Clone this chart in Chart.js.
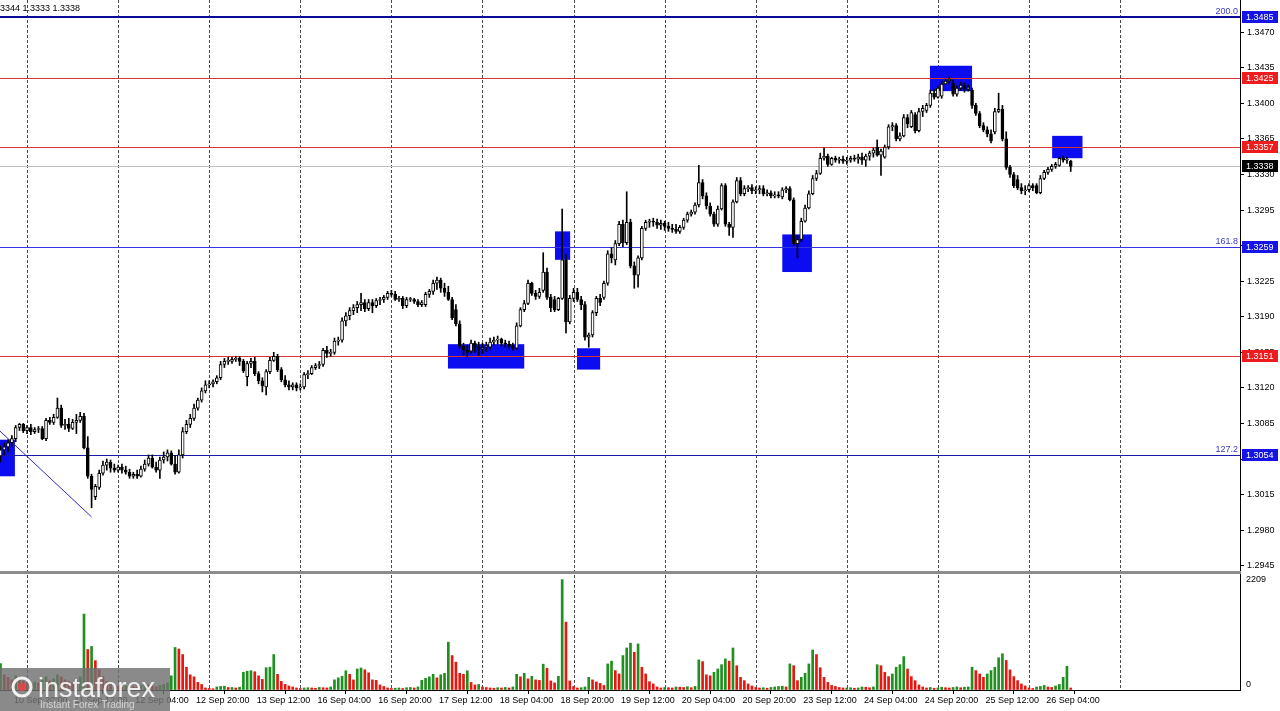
<!DOCTYPE html>
<html>
<head>
<meta charset="utf-8">
<script src="https://cdn.jsdelivr.net/npm/chart.js@4.4.1/dist/chart.umd.min.js"></script>
<style>
  html, body { margin: 0; padding: 0; background: #fff; }
  #wrap { width: 1280px; height: 711px; }
</style>
</head>
<body>
<div id="wrap"><canvas id="chart" width="1280" height="711"></canvas></div>
<script>
// GBPUSD H1, one entry per hourly bar, starting 10 Sep 17:00
const opens = [
  1.3053,1.3059,1.3062,1.3066,1.3070,1.3081,1.3084,1.3078,1.3081,1.3077,
  1.3079,1.3080,1.3070,1.3088,1.3086,1.3091,1.3100,1.3083,1.3084,1.3080,
  1.3086,1.3088,1.3092,1.3061,1.3033,1.3013,1.3022,1.3036,1.3044,1.3047,
  1.3041,1.3039,1.3042,1.3039,1.3037,1.3033,1.3035,1.3033,1.3040,1.3045,
  1.3051,1.3042,1.3039,1.3049,1.3052,1.3056,1.3045,1.3037,1.3054,1.3077,
  1.3084,1.3090,1.3100,1.3108,1.3117,1.3123,1.3124,1.3126,1.3130,1.3143,
  1.3146,1.3146,1.3148,1.3149,1.3146,1.3131,1.3144,1.3146,1.3134,1.3127,
  1.3121,1.3136,1.3147,1.3151,1.3138,1.3128,1.3123,1.3121,1.3123,1.3120,
  1.3121,1.3133,1.3134,1.3140,1.3142,1.3143,1.3157,1.3154,1.3155,1.3166,
  1.3167,1.3186,1.3191,1.3196,1.3199,1.3202,1.3204,1.3198,1.3204,1.3201,
  1.3206,1.3207,1.3209,1.3213,1.3212,1.3207,1.3208,1.3201,1.3207,1.3207,
  1.3205,1.3202,1.3202,1.3212,1.3215,1.3223,1.3226,1.3218,1.3214,1.3207,
  1.3197,1.3183,1.3161,1.3157,1.3156,1.3164,1.3160,1.3158,1.3160,1.3160,
  1.3165,1.3167,1.3168,1.3164,1.3163,1.3161,1.3159,1.3181,1.3197,1.3203,
  1.3223,1.3213,1.3210,1.3216,1.3234,1.3209,1.3207,1.3197,1.3208,1.3246,
  1.3185,1.3208,1.3214,1.3207,1.3202,1.3170,1.3172,1.3194,1.3208,1.3209,
  1.3223,1.3252,1.3246,1.3262,1.3281,1.3263,1.3283,1.3240,1.3231,1.3248,
  1.3277,1.3283,1.3284,1.3283,1.3280,1.3282,1.3279,1.3277,1.3276,1.3274,
  1.3278,1.3285,1.3291,1.3293,1.3300,1.3322,1.3309,1.3299,1.3291,1.3281,
  1.3296,1.3319,1.3281,1.3278,1.3303,1.3324,1.3311,1.3316,1.3317,1.3314,
  1.3315,1.3316,1.3311,1.3312,1.3309,1.3310,1.3308,1.3315,1.3316,1.3305,
  1.3262,1.3266,1.3284,1.3297,1.3311,1.3326,1.3331,1.3346,1.3348,1.3340,
  1.3346,1.3344,1.3345,1.3343,1.3344,1.3346,1.3345,1.3347,1.3344,1.3348,
  1.3351,1.3357,1.3349,1.3347,1.3357,1.3377,1.3378,1.3365,1.3368,1.3386,
  1.3377,1.3389,1.3373,1.3392,1.3393,1.3398,1.3410,1.3406,1.3407,1.3419,
  1.3422,1.3420,1.3409,1.3415,1.3418,1.3414,1.3413,1.3398,1.3390,1.3378,
  1.3374,1.3370,1.3372,1.3392,1.3394,1.3365,1.3337,1.3330,1.3325,1.3317,
  1.3314,1.3315,1.3319,1.3319,1.3312,1.3326,1.3332,1.3335,1.3338,1.3339,
  1.3346,1.3344,1.3343
];
const highs = [
  1.3063,1.3066,1.3069,1.3073,1.3083,1.3085,1.3085,1.3083,1.3084,1.3081,
  1.3082,1.3082,1.3090,1.3091,1.3094,1.3110,1.3103,1.3089,1.3090,1.3089,
  1.3094,1.3096,1.3095,1.3072,1.3035,1.3025,1.3039,1.3048,1.3050,1.3049,
  1.3045,1.3044,1.3045,1.3043,1.3040,1.3037,1.3039,1.3043,1.3049,1.3054,
  1.3054,1.3047,1.3052,1.3057,1.3059,1.3058,1.3053,1.3059,1.3081,1.3088,
  1.3094,1.3104,1.3110,1.3120,1.3127,1.3127,1.3128,1.3132,1.3146,1.3149,
  1.3150,1.3150,1.3151,1.3151,1.3148,1.3146,1.3149,1.3150,1.3136,1.3130,
  1.3138,1.3150,1.3155,1.3153,1.3140,1.3132,1.3127,1.3125,1.3125,1.3124,
  1.3135,1.3137,1.3142,1.3144,1.3146,1.3159,1.3161,1.3158,1.3169,1.3170,
  1.3189,1.3194,1.3199,1.3202,1.3205,1.3213,1.3207,1.3207,1.3207,1.3208,
  1.3209,1.3211,1.3215,1.3216,1.3215,1.3210,1.3210,1.3209,1.3209,1.3208,
  1.3207,1.3206,1.3214,1.3217,1.3226,1.3229,1.3228,1.3223,1.3220,1.3209,
  1.3202,1.3186,1.3164,1.3162,1.3167,1.3166,1.3165,1.3164,1.3165,1.3169,
  1.3170,1.3171,1.3169,1.3167,1.3166,1.3164,1.3184,1.3199,1.3206,1.3226,
  1.3224,1.3216,1.3218,1.3253,1.3238,1.3212,1.3210,1.3209,1.3296,1.3251,
  1.3211,1.3218,1.3218,1.3210,1.3205,1.3174,1.3196,1.3210,1.3212,1.3225,
  1.3255,1.3258,1.3265,1.3284,1.3285,1.3313,1.3286,1.3244,1.3250,1.3279,
  1.3285,1.3286,1.3287,1.3286,1.3285,1.3284,1.3283,1.3281,1.3281,1.3280,
  1.3287,1.3293,1.3295,1.3302,1.3339,1.3325,1.3312,1.3302,1.3293,1.3299,
  1.3321,1.3321,1.3283,1.3305,1.3327,1.3327,1.3319,1.3319,1.3320,1.3318,
  1.3319,1.3319,1.3315,1.3314,1.3313,1.3313,1.3317,1.3318,1.3318,1.3307,
  1.3270,1.3287,1.3300,1.3314,1.3329,1.3334,1.3351,1.3356,1.3350,1.3347,
  1.3348,1.3347,1.3348,1.3347,1.3348,1.3349,1.3350,1.3351,1.3350,1.3353,
  1.3356,1.3364,1.3355,1.3359,1.3379,1.3381,1.3380,1.3371,1.3389,1.3389,
  1.3393,1.3391,1.3395,1.3398,1.3400,1.3413,1.3414,1.3417,1.3422,1.3424,
  1.3426,1.3423,1.3417,1.3421,1.3420,1.3418,1.3415,1.3400,1.3392,1.3381,
  1.3377,1.3374,1.3395,1.3410,1.3398,1.3372,1.3339,1.3332,1.3329,1.3321,
  1.3319,1.3321,1.3321,1.3321,1.3329,1.3334,1.3337,1.3340,1.3342,1.3347,
  1.3348,1.3347,1.3344
];
const lows = [
  1.3047,1.3054,1.3057,1.3062,1.3067,1.3078,1.3076,1.3075,1.3074,1.3075,
  1.3076,1.3069,1.3068,1.3084,1.3084,1.3090,1.3081,1.3079,1.3077,1.3079,
  1.3075,1.3086,1.3060,1.3031,1.3002,1.3010,1.3020,1.3034,1.3039,1.3037,
  1.3037,1.3037,1.3036,1.3035,1.3031,1.3031,1.3031,1.3032,1.3038,1.3043,
  1.3041,1.3037,1.3031,1.3046,1.3048,1.3044,1.3035,1.3036,1.3051,1.3075,
  1.3081,1.3088,1.3098,1.3106,1.3115,1.3120,1.3121,1.3124,1.3128,1.3140,
  1.3143,1.3144,1.3146,1.3142,1.3135,1.3122,1.3140,1.3132,1.3124,1.3116,
  1.3113,1.3134,1.3146,1.3136,1.3126,1.3121,1.3118,1.3118,1.3117,1.3118,
  1.3119,1.3129,1.3133,1.3138,1.3139,1.3141,1.3150,1.3151,1.3153,1.3162,
  1.3165,1.3181,1.3187,1.3192,1.3194,1.3196,1.3195,1.3196,1.3194,1.3199,
  1.3202,1.3204,1.3207,1.3210,1.3206,1.3205,1.3198,1.3199,1.3205,1.3203,
  1.3200,1.3200,1.3200,1.3209,1.3212,1.3217,1.3214,1.3210,1.3206,1.3187,
  1.3181,1.3159,1.3152,1.3151,1.3154,1.3155,1.3152,1.3154,1.3156,1.3158,
  1.3162,1.3163,1.3161,1.3160,1.3159,1.3157,1.3158,1.3180,1.3195,1.3202,
  1.3211,1.3207,1.3208,1.3214,1.3207,1.3195,1.3195,1.3196,1.3207,1.3174,
  1.3183,1.3205,1.3205,1.3197,1.3167,1.3160,1.3170,1.3191,1.3201,1.3207,
  1.3221,1.3243,1.3241,1.3260,1.3259,1.3261,1.3238,1.3218,1.3219,1.3246,
  1.3275,1.3278,1.3279,1.3277,1.3276,1.3275,1.3274,1.3273,1.3272,1.3272,
  1.3276,1.3283,1.3289,1.3291,1.3298,1.3306,1.3296,1.3289,1.3279,1.3279,
  1.3295,1.3279,1.3270,1.3268,1.3302,1.3309,1.3309,1.3313,1.3311,1.3311,
  1.3311,1.3309,1.3309,1.3307,1.3307,1.3307,1.3306,1.3312,1.3304,1.3260,
  1.3248,1.3264,1.3283,1.3296,1.3310,1.3324,1.3330,1.3344,1.3338,1.3339,
  1.3342,1.3341,1.3341,1.3340,1.3342,1.3343,1.3341,1.3340,1.3338,1.3344,
  1.3347,1.3348,1.3329,1.3346,1.3355,1.3373,1.3363,1.3363,1.3367,1.3376,
  1.3376,1.3371,1.3372,1.3387,1.3391,1.3396,1.3404,1.3405,1.3405,1.3418,
  1.3420,1.3407,1.3407,1.3413,1.3411,1.3412,1.3395,1.3388,1.3376,1.3372,
  1.3367,1.3361,1.3370,1.3391,1.3363,1.3335,1.3327,1.3317,1.3315,1.3311,
  1.3310,1.3313,1.3314,1.3311,1.3311,1.3325,1.3330,1.3333,1.3336,1.3338,
  1.3342,1.3341,1.3333
];
const closes = [
  1.3059,1.3062,1.3066,1.3070,1.3081,1.3084,1.3078,1.3081,1.3077,1.3079,
  1.3080,1.3070,1.3088,1.3086,1.3091,1.3100,1.3083,1.3084,1.3080,1.3086,
  1.3088,1.3092,1.3061,1.3033,1.3020,1.3023,1.3036,1.3044,1.3047,1.3041,
  1.3039,1.3042,1.3039,1.3037,1.3033,1.3035,1.3033,1.3040,1.3045,1.3051,
  1.3042,1.3039,1.3049,1.3052,1.3056,1.3045,1.3037,1.3054,1.3077,1.3084,
  1.3090,1.3100,1.3108,1.3117,1.3123,1.3124,1.3126,1.3130,1.3143,1.3146,
  1.3146,1.3148,1.3149,1.3146,1.3137,1.3144,1.3146,1.3134,1.3127,1.3122,
  1.3136,1.3147,1.3151,1.3138,1.3128,1.3123,1.3121,1.3123,1.3120,1.3121,
  1.3133,1.3134,1.3140,1.3142,1.3143,1.3157,1.3154,1.3155,1.3166,1.3167,
  1.3186,1.3191,1.3196,1.3199,1.3202,1.3204,1.3198,1.3204,1.3201,1.3206,
  1.3207,1.3209,1.3213,1.3212,1.3207,1.3208,1.3201,1.3207,1.3207,1.3205,
  1.3202,1.3204,1.3212,1.3215,1.3223,1.3226,1.3218,1.3214,1.3207,1.3189,
  1.3183,1.3161,1.3157,1.3155,1.3164,1.3160,1.3158,1.3160,1.3161,1.3165,
  1.3167,1.3168,1.3164,1.3163,1.3161,1.3159,1.3181,1.3197,1.3203,1.3223,
  1.3213,1.3210,1.3214,1.3234,1.3209,1.3199,1.3197,1.3208,1.3246,1.3185,
  1.3208,1.3214,1.3207,1.3202,1.3170,1.3172,1.3194,1.3208,1.3204,1.3223,
  1.3252,1.3248,1.3262,1.3281,1.3263,1.3283,1.3240,1.3231,1.3248,1.3277,
  1.3283,1.3284,1.3283,1.3280,1.3282,1.3279,1.3277,1.3276,1.3274,1.3278,
  1.3285,1.3291,1.3293,1.3300,1.3322,1.3309,1.3299,1.3291,1.3281,1.3296,
  1.3319,1.3281,1.3278,1.3303,1.3324,1.3311,1.3316,1.3317,1.3314,1.3315,
  1.3316,1.3311,1.3312,1.3309,1.3310,1.3309,1.3315,1.3316,1.3305,1.3262,
  1.3266,1.3284,1.3297,1.3311,1.3326,1.3331,1.3346,1.3348,1.3340,1.3346,
  1.3344,1.3345,1.3343,1.3344,1.3346,1.3345,1.3347,1.3344,1.3348,1.3351,
  1.3354,1.3349,1.3353,1.3357,1.3377,1.3378,1.3365,1.3368,1.3386,1.3380,
  1.3391,1.3373,1.3392,1.3395,1.3398,1.3410,1.3406,1.3415,1.3419,1.3422,
  1.3424,1.3409,1.3415,1.3418,1.3414,1.3416,1.3398,1.3390,1.3378,1.3374,
  1.3370,1.3363,1.3392,1.3394,1.3365,1.3337,1.3330,1.3319,1.3317,1.3314,
  1.3315,1.3319,1.3317,1.3312,1.3326,1.3332,1.3335,1.3338,1.3340,1.3346,
  1.3344,1.3345,1.3338
];
const volumes = [
  520,300,250,200,280,220,180,150,120,160,
  140,200,260,180,220,300,260,200,170,150,
  190,260,1500,800,860,580,400,260,170,120,
  90,70,60,80,100,70,60,90,110,100,
  80,60,90,110,140,280,840,810,700,450,
  300,260,150,110,40,30,25,60,70,75,
  50,50,40,55,350,370,380,360,280,210,
  440,450,700,310,170,110,80,60,40,30,
  40,45,40,35,50,45,40,60,200,240,
  270,380,310,200,415,435,400,340,200,190,
  100,70,40,30,35,40,30,45,50,40,
  60,190,230,260,310,240,300,330,945,680,
  550,330,310,380,150,100,110,60,50,40,
  35,45,40,50,40,60,310,260,330,220,
  270,200,190,510,430,180,140,270,2180,1340,
  180,70,40,45,60,250,200,160,130,90,
  515,570,383,317,680,830,925,745,910,450,
  317,165,119,60,40,50,45,40,60,55,
  50,65,45,70,594,560,300,280,350,415,
  500,614,570,830,480,250,185,120,80,50,
  40,45,35,50,60,70,75,60,515,480,
  185,250,330,515,790,700,440,250,150,90,
  70,50,40,40,45,35,40,60,55,45,
  60,500,480,350,265,317,450,500,660,415,
  265,185,100,60,40,50,35,40,55,45,
  40,50,60,45,55,60,450,383,317,250,
  317,383,450,636,716,583,398,265,185,119,
  80,40,30,60,70,90,60,50,80,110,
  250,470,40
];

// axis labels
const tickBars = [3, 19, 35, 51, 67, 83, 99, 115, 131, 147, 163, 179, 195, 211, 227, 243, 259, 275];
const tickLabels = ['10 Sep 20:00', '11 Sep 12:00', '12 Sep 04:00', '12 Sep 20:00', '13 Sep 12:00',
  '16 Sep 04:00', '16 Sep 20:00', '17 Sep 12:00', '18 Sep 04:00', '18 Sep 20:00', '19 Sep 12:00',
  '20 Sep 04:00', '20 Sep 20:00', '23 Sep 12:00', '24 Sep 04:00', '24 Sep 20:00', '25 Sep 12:00', '26 Sep 04:00'];
const dayBreaks = [7, 31, 55, 79, 103, 127, 151, 175, 199, 223, 247, 271, 295];
const priceTicks = [1.2945, 1.2980, 1.3015, 1.3050, 1.3085, 1.3120, 1.3155, 1.3190, 1.3225,
  1.3260, 1.3295, 1.3330, 1.3365, 1.3400, 1.3435, 1.3470];
const volumeTicks = [0, 2209];

// horizontal levels and the fibo level captions
const levels = [1.3485, 1.3425, 1.3357, 1.3338, 1.3259, 1.3151, 1.3054];
const levelNames = ['200.0', '', '', '', '161.8', '', '127.2'];
// fibo base line (bar, price)
const fiboBase = [{ x: -4, y: 1.3091 }, { x: 24, y: 1.2993 }];
// marked zones: [fromBar, toBar, topPrice, bottomPrice]
const zones = [
  [-1, 3.8, 1.3069, 1.3033],
  [117.9, 138, 1.3163, 1.3139],
  [146.1, 150.1, 1.3274, 1.3246],
  [151.9, 158, 1.3159, 1.3138],
  [206, 213.8, 1.3271, 1.3234],
  [244.9, 256, 1.3437, 1.3412],
  [277.1, 285.1, 1.3368, 1.3346]
];

// styles
const levelColors = ['#0a0a96', '#d83434', '#d83434', '#bdbdbd', '#3434e0', '#d83434', '#1a1aa8'];
const levelWidths = [2, 1, 1, 1, 1, 1, 1];
const tagColors = ['#1414e6', '#ee1c1c', '#ee1c1c', '#000000', '#1414e6', '#ee1c1c', '#1414e6'];
const FONT = 'Liberation Sans';

const bodyData = opens.map((o, i) => ({ x: i, y: [o, closes[i]] }));
const wickData = opens.map((o, i) => ({ x: i, y: [lows[i], highs[i]] }));
const volData = volumes.map((v, i) => ({ x: i, y: v }));
const bodyFill = opens.map((o, i) => closes[i] >= o ? '#ffffff' : '#000000');
const volFill = volumes.map((v, i) => (i === 0 || v >= volumes[i - 1]) ? '#1f8f1f' : '#e6170f');

// no label overhang: panes go edge to edge like the terminal
function noPadding(scale) {
    scale.paddingTop = 0;
    scale.paddingBottom = 0;
    scale.paddingLeft = 0;
    scale.paddingRight = 0;
}

const overlay = {
    id: 'overlay',
    beforeDatasetsDraw(chart) {
        const { ctx, chartArea: a, scales: { x, y } } = chart;
        ctx.save();
        ctx.beginPath();
        ctx.rect(a.left, a.top, a.right - a.left, a.bottom - a.top);
        ctx.clip();

        // day separators
        ctx.strokeStyle = '#4a4a4a';
        ctx.lineWidth = 1;
        ctx.setLineDash([3, 2]);
        dayBreaks.forEach(b => {
            const px = Math.round(x.getPixelForValue(b)) + 0.5;
            ctx.beginPath();
            ctx.moveTo(px, a.top);
            ctx.lineTo(px, a.bottom);
            ctx.stroke();
        });
        ctx.setLineDash([]);

        // zones
        ctx.fillStyle = '#0c0cf0';
        zones.forEach(z => {
            const x0 = x.getPixelForValue(z[0]);
            const x1 = x.getPixelForValue(z[1]);
            const y0 = y.getPixelForValue(z[2]);
            const y1 = y.getPixelForValue(z[3]);
            ctx.fillRect(x0, y0, x1 - x0, y1 - y0);
        });

        // horizontal levels
        levels.forEach((p, i) => {
            const py = Math.round(y.getPixelForValue(p)) + (levelWidths[i] === 1 ? 0.5 : 0);
            ctx.strokeStyle = levelColors[i];
            ctx.lineWidth = levelWidths[i];
            ctx.beginPath();
            ctx.moveTo(a.left, py);
            ctx.lineTo(a.right, py);
            ctx.stroke();
            if (levelNames[i]) {
                ctx.fillStyle = '#3a3ac8';
                ctx.font = `9px "${FONT}"`;
                ctx.textAlign = 'right';
                ctx.textBaseline = 'bottom';
                ctx.fillText(levelNames[i], a.right - 2, py - 1);
            }
        });
        ctx.restore();
    },
    afterDraw(chart) {
        const { ctx, chartArea: a, scales: { y, v } } = chart;
        ctx.save();

        // separator between price and volume panes
        ctx.fillStyle = '#8c8c8c';
        ctx.fillRect(0, y.bottom - 1, a.right + 1, 3);

        // price tags on the axis
        ctx.font = `9px "${FONT}"`;
        ctx.textAlign = 'left';
        ctx.textBaseline = 'middle';
        levels.forEach((p, i) => {
            const py = Math.round(y.getPixelForValue(p));
            ctx.fillStyle = tagColors[i];
            ctx.fillRect(a.right + 2, py - 6, 36, 12);
            ctx.fillStyle = '#ffffff';
            ctx.fillText(p.toFixed(4), a.right + 6, py + 0.5);
        });

        // volume scale labels
        ctx.fillStyle = '#000';
        volumeTicks.forEach(t => {
            const py = Math.min(v.getPixelForValue(t) + 1, v.bottom - 5);
            ctx.fillText(String(t), a.right + 6, py);
        });

        // header (cut off at the left, as in the terminal)
        ctx.fillStyle = '#000';
        ctx.fillText('3344 1.3333 1.3338', 0, 9);

        // watermark
        ctx.fillStyle = 'rgba(112,112,112,0.82)';
        ctx.fillRect(0, 668, 170, 43);
        ctx.strokeStyle = 'rgba(255,255,255,0.9)';
        ctx.lineWidth = 3;
        ctx.beginPath();
        ctx.arc(22, 687, 9, 0, Math.PI * 2);
        ctx.stroke();
        ctx.fillStyle = 'rgba(230,70,70,0.9)';
        ctx.beginPath();
        ctx.arc(22, 687, 4, 0, Math.PI * 2);
        ctx.fill();
        ctx.fillStyle = 'rgba(255,255,255,0.88)';
        ctx.font = `27px "${FONT}"`;
        ctx.textBaseline = 'alphabetic';
        ctx.fillText('instaforex', 38, 697);
        ctx.font = `10px "${FONT}"`;
        ctx.fillStyle = 'rgba(225,225,225,0.85)';
        ctx.fillText('Instant Forex Trading', 40, 708);
        ctx.restore();
    }
};

new Chart(document.getElementById('chart'), {
    type: 'bar',
    data: {
        datasets: [
            {
                type: 'line',
                data: fiboBase,
                xAxisID: 'x', yAxisID: 'y',
                borderColor: '#2c2cc8', borderWidth: 1,
                pointRadius: 0, fill: false, order: 3
            },
            {
                data: wickData,
                xAxisID: 'x', yAxisID: 'y',
                backgroundColor: '#000', borderWidth: 0,
                barThickness: 1, grouped: false, order: 2
            },
            {
                data: bodyData,
                xAxisID: 'x', yAxisID: 'y',
                backgroundColor: bodyFill, borderColor: '#000', borderWidth: 1,
                borderSkipped: false, minBarLength: 1,
                barThickness: 3, grouped: false, order: 1
            },
            {
                data: volData,
                xAxisID: 'x', yAxisID: 'v',
                backgroundColor: volFill, borderWidth: 0,
                barThickness: 2, grouped: false, order: 0
            }
        ]
    },
    options: {
        responsive: false,
        animation: false,
        events: [],
        layout: { padding: 0 },
        plugins: { legend: { display: false }, tooltip: { enabled: false } },
        scales: {
            x: {
                type: 'linear',
                position: 'bottom',
                min: -0.13,
                max: 326.6,
                offset: false,
                afterBuildTicks: scale => { scale.ticks = tickBars.map(b => ({ value: b })); },
                afterFit: scale => { scale.height = 21; noPadding(scale); },
                grid: { drawOnChartArea: false, drawTicks: true, tickLength: 4, color: '#000' },
                border: { display: true, color: '#000' },
                ticks: {
                    autoSkip: false, maxRotation: 0, minRotation: 0,
                    align: 'start', labelOffset: 2, padding: 1,
                    color: '#000', font: { family: FONT, size: 9 },
                    callback: (val, idx) => tickLabels[idx]
                }
            },
            y: {
                type: 'linear',
                position: 'right',
                stack: 'panes',
                stackWeight: 572,
                min: 1.29388,
                max: 1.35017,
                afterBuildTicks: scale => { scale.ticks = priceTicks.map(p => ({ value: p })); },
                afterFit: scale => { scale.width = 40; noPadding(scale); },
                grid: { drawOnChartArea: false, drawTicks: true, tickLength: 4, color: '#000' },
                border: { display: true, color: '#000' },
                ticks: {
                    padding: 3, color: '#000', font: { family: FONT, size: 9 },
                    callback: val => val.toFixed(4)
                }
            },
            v: {
                type: 'linear',
                position: 'right',
                stack: 'panes',
                stackWeight: 118,
                min: 0,
                max: 2330,
                afterFit: scale => { scale.width = 40; noPadding(scale); },
                grid: { drawOnChartArea: false, drawTicks: false },
                border: { display: true, color: '#000' },
                ticks: { display: false }
            }
        }
    },
    plugins: [overlay]
});
</script>
</body>
</html>
